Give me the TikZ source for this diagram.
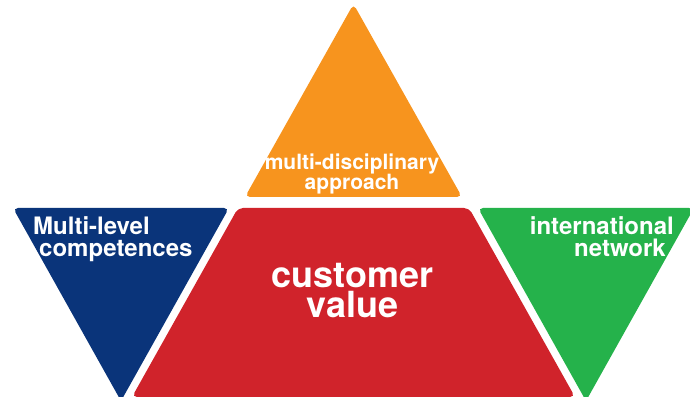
\documentclass[tikz,border=0pt]{standalone}
\usepackage{fontspec}
\setmainfont{TeX Gyre Heros}
\usepackage{tikz}
\definecolor{triorange}{RGB}{247,148,30}
\definecolor{triblue}{RGB}{10,52,122}
\definecolor{trired}{RGB}{208,35,43}
\definecolor{trigreen}{RGB}{37,178,75}
\tikzset{
	piece/.style={rounded corners=5pt},
	lbl/.style={text=white, inner sep=0pt, font=\bfseries\fontsize{24}{22}\selectfont},
	biglbl/.style={text=white, inner sep=0pt, align=center, font=\bfseries\fontsize{36}{30}\selectfont},
	toplbl/.style={text=white, inner sep=0pt, align=center, font=\bfseries\fontsize{21}{18}\selectfont}
}
\begin{document}
\begin{tikzpicture}[x=1pt, y=1pt]
			%%%%% START %%%%%
			
			\useasboundingbox (0, 0) rectangle (690, 396);
			\clip (0, 0) rectangle (690, 396);
			
			\fill[piece, triorange] (245, 199) -- (353.5, 392) -- (462, 199) -- cycle;
			
			\fill[piece, triblue] (13, 188) -- (229, 188) -- (121, -5) -- cycle;
			\fill[piece, trigreen] (478, 188) -- (694, 188) -- (586, -5) -- cycle;
			
			\fill[piece, trired] (238, 188) -- (469, 188) -- (575, -1) -- (132, -1) -- cycle;
			
			\node[toplbl, anchor=base] (dis) at (352, 206) {multi-disciplinary\\approach};
			
			\node[lbl, align=left, anchor=base west] (lev) at (33, 139) {Multi-level\\\hspace*{6pt}competences};
			
			\node[lbl, align=right, anchor=base east] (net) at (674, 139) {international\\network\hspace*{8pt}};
			
			\node[biglbl, anchor=base] (val) at (352.5, 78) {customer\\value};
			
			%%%%% END %%%%%
\end{tikzpicture}
\end{document}
